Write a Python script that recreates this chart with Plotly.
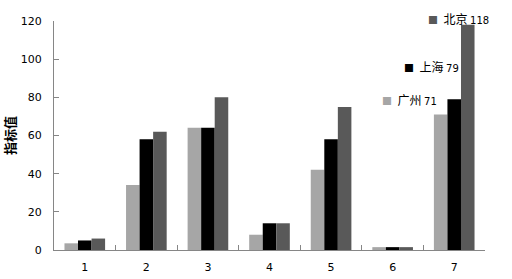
import plotly.graph_objects as go

categories = ["1", "2", "3", "4", "5", "6", "7"]
series_names = ["广州", "上海", "北京"]
guangzhou = [3.5, 34, 64, 8, 42, 1.5, 71]
shanghai = [5, 58, 64, 14, 58, 1.5, 79]
beijing = [6, 62, 80, 14, 75, 1.5, 118]
colors = ["#A6A6A6", "#000000", "#595959"]
y_ticks = [0, 20, 40, 60, 80, 100, 120]

fig = go.Figure()
for name, vals, col in zip(series_names, [guangzhou, shanghai, beijing], colors):
    fig.add_trace(go.Bar(x=categories, y=vals, name=name, marker=dict(color=col, line=dict(width=0))))

# labels for last category
label_pos = {"北京": (0.862, 1.013), "上海": (0.807, 0.803), "广州": (0.756, 0.659)}
for name, vals, col in zip(series_names, [guangzhou, shanghai, beijing], colors):
    px, py = label_pos[name]
    v = vals[-1]
    fig.add_annotation(
        xref="paper", yref="paper", x=px, y=py, xanchor="left", yanchor="middle",
        showarrow=False,
        text=f"<span style='color:{col};font-size:10px'>■</span>  {name} <span style='font-family:DejaVu Sans;font-size:10px'>{v:g}</span>",
        font=dict(family="Noto Sans CJK SC", size=12, color="#000000"),
    )

fig.update_layout(
    width=512, height=279,
    margin=dict(l=54, r=27, t=21, b=29),
    paper_bgcolor="white", plot_bgcolor="white",
    barmode="group", bargap=0.34, bargroupgap=0,
    showlegend=False,
    font=dict(family="DejaVu Sans", size=11, color="#000000"),
)
fig.update_xaxes(
    type="category", range=[-0.5, 6.5], automargin=False,
    showline=True, linecolor="#868686", linewidth=1,
    ticks="inside", tickson="boundaries", ticklen=5, tickcolor="#868686",
    showgrid=False, tickfont=dict(size=11), ticklabelstandoff=7,
)
fig.update_yaxes(
    range=[0, 120], tickvals=y_ticks, automargin=False,
    showline=True, linecolor="#868686", linewidth=1,
    ticks="inside", ticklen=5, tickcolor="#868686",
    showgrid=False, zeroline=False, tickfont=dict(size=11), ticklabelstandoff=9,
    title=dict(text="<b>指标值</b>", font=dict(family="Noto Sans CJK SC", size=13), standoff=10),
)
fig.write_html("out.html")
